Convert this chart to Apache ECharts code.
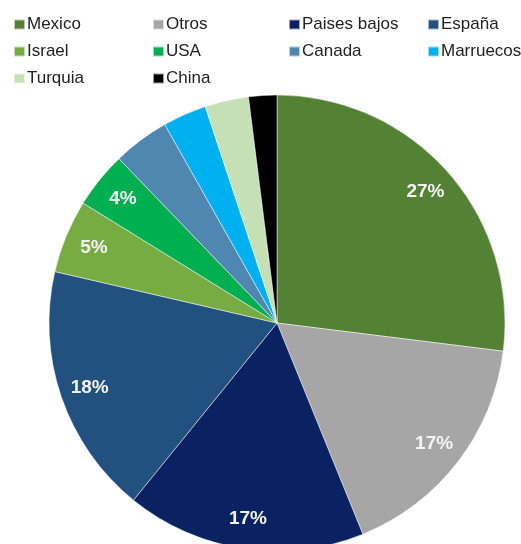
<!DOCTYPE html>
<html><head><meta charset="utf-8">
<script src="https://cdn.jsdelivr.net/npm/echarts@6/dist/echarts.min.js"></script>
<style>html,body{margin:0;padding:0;background:#fff}#c{width:521px;height:544px}</style>
</head><body><div id="c"></div>
<script>
const categories = ['Mexico','Otros','Paises bajos','España','Israel','USA','Canada','Marruecos','Turquia','China'];
const values = [27, 16.9, 17, 17.8, 5.2, 4, 4, 3.1, 3.1, 2];
const labels = ['27%','17%','17%','18%','5%','4%','','','',''];
const colors = ['#548235','#A6A6A6','#0B2262','#22507F','#77AC42','#00B050','#4F87B0','#00B0F0','#C5E0B4','#000000'];
const legendCols = [['Mexico','Israel','Turquia'],['Otros','USA','China'],['Paises bajos','Canada'],['España','Marruecos']];
const legendX = [8, 147, 283, 422];

const chart = echarts.init(document.getElementById('c'));
const data = categories.map((n,i)=>({name:n, value:values[i], itemStyle:{color:colors[i]}}));
const legends = legendCols.map((col,i)=>({
  orient:'vertical', left:legendX[i], top:11, data:col,
  icon:'rect', itemWidth:11, itemHeight:10, itemGap:10,
  textStyle:{fontFamily:'Liberation Sans, Arial, sans-serif', fontSize:17, color:'#222', padding:[0,0,0,-3]},
  selectedMode:false
}));
chart.setOption({
  animation:false,
  color: colors,
  legend: legends,
  series:[
    {type:'pie', center:[277,323], radius:[0,228], startAngle:90, clockwise:true,
     data:data, label:{show:false}, labelLine:{show:false},
     itemStyle:{borderColor:'rgba(255,255,255,0.6)', borderWidth:0.8}, silent:true},
    {type:'pie', center:[277,323], radius:[162,228], startAngle:90, clockwise:true,
     data:categories.map((n,i)=>({name:n, value:values[i], itemStyle:{color:'transparent'}})),
     label:{show:true, position:'inside', formatter:p=>labels[p.dataIndex], color:'#f4f4f4',
       fontFamily:'Liberation Sans, Arial, sans-serif', fontSize:19, fontWeight:'bold'},
     labelLine:{show:false}, silent:true, emphasis:{disabled:true}}
  ]
});
</script></body></html>
